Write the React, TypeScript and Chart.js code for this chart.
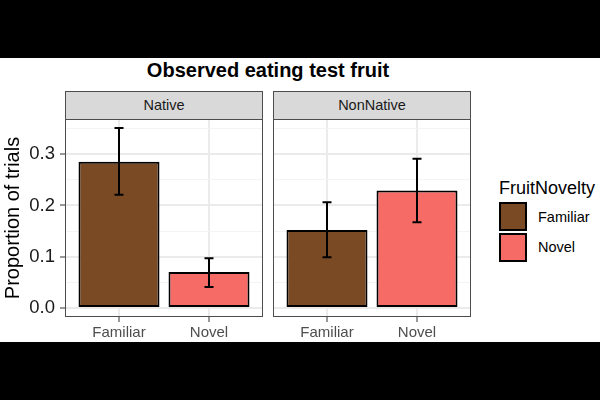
import React, { useEffect, useRef } from 'react';
import { Chart, registerables } from 'chart.js';

Chart.register(...registerables);

const FONT = '"Liberation Sans", Arial, Helvetica, sans-serif';
Chart.defaults.font.family = FONT;

// ---- data ----
const title = 'Observed eating test fruit';
const yAxisTitle = 'Proportion of trials';
const legendTitle = 'FruitNovelty';
const categories = ['Familiar', 'Novel'];
const facets = ['Native', 'NonNative'];
const nativeValues = [0.285, 0.070];
const nativeLower = [0.221, 0.041];
const nativeUpper = [0.351, 0.097];
const nonNativeValues = [0.152, 0.229];
const nonNativeLower = [0.099, 0.167];
const nonNativeUpper = [0.206, 0.291];
const yTicks = [0, 0.05, 0.1, 0.15, 0.2, 0.25, 0.3, 0.35];
const yTickLabels = ['0.0', '', '0.1', '', '0.2', '', '0.3', ''];
const fillColors = ['#7A4A24', '#F66B65'];

const allUpper = [...nativeUpper, ...nonNativeUpper];
const topVal = Math.max(...allUpper);
const yMax = topVal * 1.05;
const yMin = -topVal * 0.05;

type PanelProps = {
  values: number[];
  lower: number[];
  upper: number[];
  showY: boolean;
  left: number;
  width: number;
};

function Panel({ values, lower, upper, showY, left, width }: PanelProps) {
  const ref = useRef<HTMLCanvasElement>(null);
  useEffect(() => {
    if (!ref.current) return;
    const errorBars = {
      id: 'errorBars',
      afterDatasetsDraw(chart: any) {
        const { ctx, scales } = chart;
        const x = scales.x;
        const y = scales.y;
        ctx.save();
        ctx.strokeStyle = '#000';
        ctx.lineWidth = 2;
        values.forEach((_v, i) => {
          const px = x.getPixelForValue(i);
          const t = y.getPixelForValue(upper[i]);
          const b = y.getPixelForValue(lower[i]);
          ctx.beginPath();
          ctx.moveTo(px, t);
          ctx.lineTo(px, b);
          ctx.moveTo(px - 4.5, t);
          ctx.lineTo(px + 4.5, t);
          ctx.moveTo(px - 4.5, b);
          ctx.lineTo(px + 4.5, b);
          ctx.stroke();
        });
        ctx.restore();
      },
    };
    const frame = {
      id: 'frame',
      afterDraw(chart: any) {
        const { ctx, chartArea: a } = chart;
        ctx.save();
        ctx.strokeStyle = '#4D4D4D';
        ctx.lineWidth = 1;
        ctx.strokeRect(a.left + 0.5, a.top + 0.5, a.right - a.left - 1, a.bottom - a.top - 1);
        ctx.restore();
      },
    };
    const isMajor = (c: any) => yTickLabels[c.index] !== '';
    const chart = new Chart(ref.current, {
      type: 'bar',
      data: {
        datasets: [
          {
            data: values.map((v, i) => ({ x: i, y: v })) as any,
            backgroundColor: fillColors,
            borderColor: '#000',
            borderWidth: 2,
            borderSkipped: false,
            barPercentage: 0.9,
            categoryPercentage: 1,
          },
        ],
      },
      options: {
        animation: false,
        responsive: false,
        maintainAspectRatio: false,
        layout: { padding: { top: 1, right: 1, left: showY ? 0 : 1, bottom: 0 } },
        plugins: { legend: { display: false }, tooltip: { enabled: false } },
        scales: {
          x: {
            type: 'linear',
            min: -0.6,
            max: 1.6,
            offset: false,
            afterBuildTicks: (s: any) => {
              s.ticks = categories.map((_c, i) => ({ value: i }));
            },
            afterFit: (s: any) => {
              s.height = 25;
              s.paddingLeft = 0;
              s.paddingRight = 0;
            },
            ticks: {
              callback: (v: any) => categories[Math.round(Number(v))] ?? '',
              color: '#4D4D4D',
              font: { size: 15 },
              padding: 2,
              maxRotation: 0,
              autoSkip: false,
            },
            grid: {
              offset: false,
              color: '#EBEBEB',
              lineWidth: 2,
              tickLength: 5,
              tickColor: '#333333',
              tickWidth: 1,
              drawTicks: true,
            },
            border: { display: false },
          } as any,
          y: {
            type: 'linear',
            min: yMin,
            max: yMax,
            afterBuildTicks: (s: any) => {
              s.ticks = yTicks.map((v) => ({ value: v }));
            },
            afterFit: (s: any) => {
              s.width = showY ? 65 : 0;
              s.paddingTop = 0;
              s.paddingBottom = 0;
            },
            ticks: {
              display: showY,
              callback: (_v: any, i: number) => yTickLabels[i],
              color: '#1A1A1A',
              font: { size: 18.5 },
              padding: 5,
            },
            grid: {
              color: (c: any) => (isMajor(c) ? '#EBEBEB' : '#F4F4F4'),
              lineWidth: (c: any) => (isMajor(c) ? 2 : 1),
              tickLength: 5,
              drawTicks: showY,
              tickColor: (c: any) => (isMajor(c) ? '#333333' : 'rgba(0,0,0,0)'),
              tickWidth: 1,
            },
            border: { display: false },
            title: {
              display: showY,
              text: yAxisTitle,
              color: '#000',
              font: { size: 20 },
              padding: { top: 1, bottom: 0 },
            },
          } as any,
        },
      },
      plugins: [errorBars, frame],
    });
    return () => chart.destroy();
  }, []);
  return (
    <canvas
      ref={ref}
      width={width}
      height={224}
      style={{ position: 'absolute', left, top: 118, width, height: 224 }}
    />
  );
}

export default function App() {
  const strips = [
    { label: facets[0], left: 65 },
    { label: facets[1], left: 273 },
  ];
  return (
    <div
      style={{
        position: 'fixed',
        left: 0,
        top: 0,
        width: 600,
        height: 400,
        background: '#fff',
        overflow: 'hidden',
        fontFamily: FONT,
      }}
    >
      <div style={{ position: 'absolute', left: 0, top: 0, width: 600, height: 58, background: '#000' }} />
      <div style={{ position: 'absolute', left: 0, top: 342, width: 600, height: 58, background: '#000' }} />
      <div
        style={{
          position: 'absolute',
          left: 0,
          width: 536,
          top: 58,
          lineHeight: '24px',
          fontSize: 20,
          fontWeight: 'bold',
          textAlign: 'center',
          color: '#000',
        }}
      >
        {title}
      </div>
      {strips.map((s) => (
        <div
          key={s.label}
          style={{
            position: 'absolute',
            left: s.left,
            top: 91,
            width: 198,
            height: 29,
            boxSizing: 'border-box',
            border: '1px solid #4D4D4D',
            background: '#D9D9D9',
            color: '#1A1A1A',
            fontSize: 14.5,
            lineHeight: '27px',
            textAlign: 'center',
          }}
        >
          {s.label}
        </div>
      ))}
      <Panel values={nativeValues} lower={nativeLower} upper={nativeUpper} showY={true} left={0} width={264} />
      <Panel values={nonNativeValues} lower={nonNativeLower} upper={nonNativeUpper} showY={false} left={272} width={200} />
      <div style={{ position: 'absolute', left: 499, top: 177, fontSize: 18, lineHeight: '22px', color: '#000' }}>
        {legendTitle}
      </div>
      {categories.map((c, i) => (
        <React.Fragment key={c}>
          <div
            style={{
              position: 'absolute',
              left: 499,
              top: 202 + i * 31,
              width: 28,
              height: 29,
              boxSizing: 'border-box',
              border: '2px solid #000',
              background: fillColors[i],
            }}
          />
          <div
            style={{
              position: 'absolute',
              left: 538,
              top: 206 + i * 30,
              fontSize: 14.5,
              lineHeight: '22px',
              color: '#000',
            }}
          >
            {c}
          </div>
        </React.Fragment>
      ))}
    </div>
  );
}
